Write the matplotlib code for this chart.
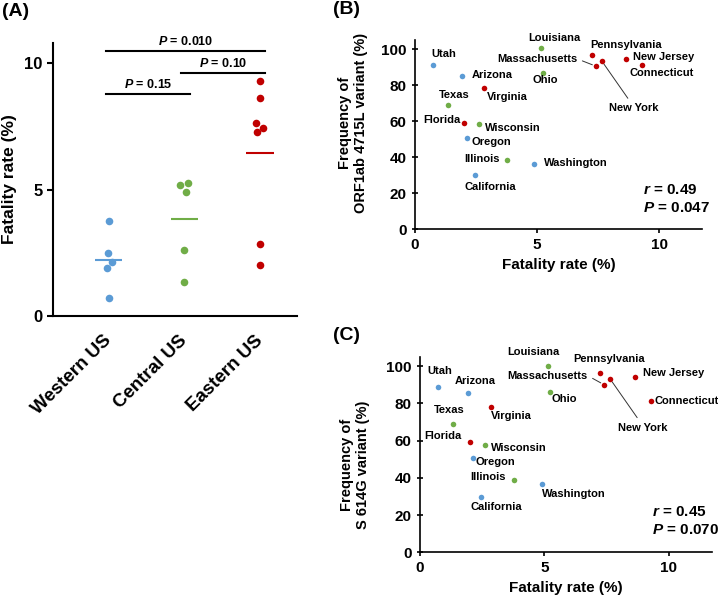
import matplotlib.pyplot as plt
import numpy as np

plt.rcParams['font.family']=['Liberation Sans','DejaVu Sans']
plt.rcParams['font.weight']='bold'
plt.rcParams['axes.labelweight']='bold'
plt.rcParams['mathtext.fontset']='custom'
plt.rcParams['mathtext.it']='Liberation Sans:italic:bold'
plt.rcParams['mathtext.rm']='Liberation Sans:bold'

blue='#5B9BD5'
green='#70AD47'
red='#C00000'
colors={'W':blue,'C':green,'E':red}

#panel A data
regions=['Western US','Central US','Eastern US']
western=[3.77,2.48,2.12,1.91,0.72]
central=[5.18,5.26,4.89,2.60,1.33]
eastern=[9.29,8.64,7.64,7.42,7.26,2.83,2.02]
pvals=['0.15','0.10','0.010']

#panel B and C data
states=['Utah','Arizona','Oregon','Washington','California',
        'Texas','Wisconsin','Illinois','Louisiana','Ohio',
        'Florida','Virginia','Pennsylvania','Massachusetts','New York','New Jersey','Connecticut']
group=['W','W','W','W','W','C','C','C','C','C','E','E','E','E','E','E','E']
fatality=[0.72,1.92,2.12,4.89,2.47,1.34,2.60,3.77,5.17,5.24,2.02,2.84,7.26,7.42,7.64,8.64,9.28]
orf=[91.3,84.8,50.8,36.4,30.1,69.1,58.4,38.4,100.3,86.7,59.1,78.2,96.7,90.4,93.5,94.6,91.3]
s614g=[89.1,85.5,50.9,36.7,29.6,69.0,57.9,38.9,100.0,86.2,59.1,78.1,96.2,90.0,93.4,94.3,81.2]
stats_b=['0.49','0.047']
stats_c=['0.45','0.070']

#label positions (data coords, text centers)
lab_b=[(1.16,97.2),(3.15,85.6),(3.11,48.6),(6.57,36.8),(3.08,23.7),
       (1.60,74.7),(4.01,56.4),(2.76,39.2),(5.72,105.9),(5.35,82.8),
       (1.12,60.8),(3.80,73.6),(8.63,102.2),(4.99,94.3),(8.96,67.1),(10.16,95.4),(10.10,86.7)]
lab_c=[(0.81,97.7),(2.24,92.3),(3.02,48.6),(6.19,31.2),(3.08,24.6),
       (1.19,76.5),(3.96,56.3),(2.74,40.7),(4.58,107.5),(5.80,82.3),
       (0.92,62.5),(3.69,73.3),(7.62,103.8),(5.12,94.8),(8.98,67.0),(10.19,96.6),(10.73,81.5)]
#leader line settings: relpos on the label box
leaders={'Massachusetts':(1.0,0.55),'New York':(0.45,1.0)}


def style_axes(ax,lw=1.5):
    for s in ['top','right']:
        ax.spines[s].set_visible(False)
    for s in ['left','bottom']:
        ax.spines[s].set_linewidth(lw)


fig=plt.figure(figsize=(7.18,5.95),dpi=100)

#----- panel A -----
ax=fig.add_axes([53/718,1-316/595,244/718,273/595])
jit=[[0,-0.013,0.044,-0.026,0],[-0.053,0.049,0.022,0,0],[0,0,-0.053,0.044,-0.035,0,0]]
for i,(vals,c) in enumerate(zip([western,central,eastern],[blue,green,red])):
    ax.scatter(np.array(jit[i])+i,vals,s=30,color=c,zorder=3,linewidths=0)
    ax.hlines(np.mean(vals),i-0.18,i+0.18,color=c,lw=1.5)
ax.set_xlim(-0.74,2.49)
ax.set_ylim(0,10.8)
ax.set_yticks([0,5,10])
ax.set_xticks(range(3))
ax.set_xticklabels(regions,rotation=45,ha='right',va='center',rotation_mode='anchor',fontsize=13.5)
ax.tick_params(axis='x',length=0,pad=16)
ax.tick_params(axis='y',labelsize=12,width=1.5,length=4)
style_axes(ax)
ax.set_ylabel('Fatality rate (%)',fontsize=12.5)
ax.yaxis.set_label_coords(-0.148,0.5)
#significance brackets
brackets=[(0,1,8.79),(1,2,9.63),(0,2,10.49)]
for (a,b,h),p in zip(brackets,pvals):
    ax.plot([a-0.04,b+0.07],[h,h],color='black',lw=1.5,clip_on=False)
    ax.text((a+b)/2.0+0.02,h+0.12,r'$P$ = '+p,ha='center',va='bottom',fontsize=9)

#----- panels B and C -----
def scatter_panel(ax,yvals,labpos,stats):
    for x,y,g in zip(fatality,yvals,group):
        ax.scatter(x,y,s=16,color=colors[g],linewidths=0,zorder=3,clip_on=False)
    for name,x,y,(tx,ty) in zip(states,fatality,yvals,labpos):
        if name in leaders:
            ax.annotate(name,xy=(x,y),xytext=(tx,ty),ha='center',va='center',fontsize=8,
                        arrowprops=dict(arrowstyle='-',color='#333333',lw=0.7,
                                        relpos=leaders[name],shrinkA=2,shrinkB=3))
        else:
            ax.text(tx,ty,name,ha='center',va='center',fontsize=8)
    ax.text(9.33,21.8,r'$r$ = '+stats[0],ha='left',va='center',fontsize=11)
    ax.text(9.33,12.0,r'$P$ = '+stats[1],ha='left',va='center',fontsize=11)
    ax.set_xlim(0,11.75)
    ax.set_ylim(0,105)
    ax.set_xticks([0,5,10])
    ax.set_yticks(range(0,101,20))
    ax.tick_params(axis='y',direction='inout',length=5,width=1.2,labelsize=11)
    ax.tick_params(axis='x',direction='out',length=3,width=1.2,labelsize=11)
    style_axes(ax,1.2)
    ax.set_xlabel('Fatality rate (%)',fontsize=11,labelpad=4)

axb=fig.add_axes([415/718,1-229.3/595,287/718,189.3/595])
scatter_panel(axb,orf,lab_b,stats_b)
axb.set_ylabel('Frequency of\nORF1ab 4715L variant (%)',fontsize=10.5,multialignment='center')
axb.yaxis.set_label_coords(-0.164,0.56)

axc=fig.add_axes([420/718,1-552.3/595,292/718,195.3/595])
scatter_panel(axc,s614g,lab_c,stats_c)
axc.set_ylabel('Frequency of\nS 614G variant (%)',fontsize=10.5,multialignment='center')
axc.yaxis.set_label_coords(-0.171,0.45)

fig.text(2/718,1-12/595,'(A)',fontsize=14,va='center',ha='left')
fig.text(333/718,1-10/595,'(B)',fontsize=14,va='center',ha='left')
fig.text(333/718,1-335/595,'(C)',fontsize=14,va='center',ha='left')

plt.savefig('out.png',dpi=100)
